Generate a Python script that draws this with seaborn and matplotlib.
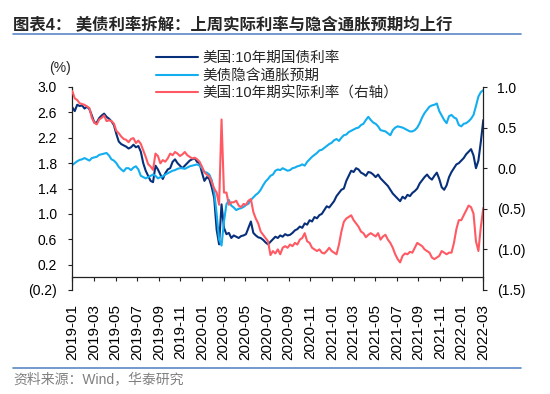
"""
US 10Y yield decomposition chart: nominal yield, breakeven inflation, real yield (right axis).
"""

import numpy as np
import pandas as pd
import matplotlib
matplotlib.use("Agg")
import matplotlib.pyplot as plt
import matplotlib.dates as mdates
from matplotlib.lines import Line2D
import seaborn as sns

sns.set_theme(style="white")
plt.rcParams["font.family"] = ["Liberation Sans", "Noto Sans CJK SC"]
plt.rcParams["axes.unicode_minus"] = False

# weekly readings, starting 2019-01-02
START_DATE = "2019-01-02"

NOMINAL = [
    2.68, 2.62, 2.72, 2.70, 2.71, 2.66, 2.69, 2.65, 2.55, 2.44,
    2.44, 2.51, 2.55, 2.58, 2.53, 2.50, 2.46, 2.40, 2.26, 2.14,
    2.10, 2.08, 2.06, 2.03, 2.05, 2.09, 2.05, 2.07, 1.98, 1.80,
    1.68, 1.60, 1.52, 1.50, 1.76, 1.70, 1.62, 1.55, 1.64, 1.70,
    1.72, 1.82, 1.86, 1.80, 1.76, 1.72, 1.76, 1.80, 1.84, 1.86,
    1.88, 1.82, 1.80, 1.65, 1.52, 1.58, 1.55, 1.42, 1.25, 0.75,
    0.52, 1.15, 0.78, 0.68, 0.70, 0.62, 0.66, 0.64, 0.62, 0.65,
    0.66, 0.68, 0.78, 0.88, 0.70, 0.66, 0.63, 0.62, 0.59, 0.55,
    0.52, 0.56, 0.60, 0.64, 0.62, 0.66, 0.64, 0.68, 0.66, 0.67,
    0.70, 0.74, 0.76, 0.80, 0.78, 0.85, 0.83, 0.90, 0.88, 0.95,
    0.93, 0.98, 1.00, 1.06, 1.12, 1.10, 1.15, 1.20, 1.28, 1.33,
    1.38, 1.40, 1.52, 1.60, 1.68, 1.66, 1.72, 1.70, 1.65, 1.63,
    1.60, 1.66, 1.65, 1.62, 1.58, 1.62, 1.56, 1.52, 1.48, 1.44,
    1.38, 1.32, 1.28, 1.24, 1.20, 1.27, 1.24, 1.30, 1.28, 1.33,
    1.36, 1.40, 1.48, 1.53, 1.58, 1.62, 1.57, 1.54, 1.60, 1.65,
    1.55, 1.42, 1.38, 1.45, 1.58, 1.66, 1.72, 1.78, 1.80, 1.84,
    1.88, 1.94, 1.98, 2.02, 1.92, 1.72, 1.84, 2.14, 2.48,
]

BREAKEVEN = [
    1.77, 1.80, 1.83, 1.85, 1.86, 1.88, 1.86, 1.84, 1.88, 1.89,
    1.90, 1.93, 1.94, 1.95, 1.96, 1.92, 1.86, 1.84, 1.80, 1.74,
    1.70, 1.67, 1.72, 1.72, 1.69, 1.73, 1.75, 1.70, 1.60, 1.58,
    1.56, 1.58, 1.60, 1.62, 1.60, 1.56, 1.58, 1.59, 1.62, 1.64,
    1.66, 1.68, 1.69, 1.71, 1.72, 1.72, 1.71, 1.73, 1.75, 1.76,
    1.77, 1.78, 1.76, 1.72, 1.66, 1.65, 1.62, 1.53, 1.35, 1.00,
    0.60, 0.50, 0.88, 1.15, 1.22, 1.13, 1.10, 1.06, 1.08, 1.09,
    1.11, 1.14, 1.16, 1.22, 1.26, 1.30, 1.33, 1.38, 1.45, 1.51,
    1.55, 1.60, 1.62, 1.68, 1.70, 1.69, 1.72, 1.70, 1.68, 1.69,
    1.72, 1.73, 1.75, 1.76, 1.78, 1.76, 1.82, 1.86, 1.90, 1.93,
    1.96, 2.00, 2.01, 2.04, 2.07, 2.10, 2.12, 2.16, 2.18, 2.15,
    2.20, 2.24, 2.25, 2.29, 2.31, 2.33, 2.35, 2.36, 2.40, 2.42,
    2.48, 2.53, 2.48, 2.44, 2.42, 2.38, 2.32, 2.31, 2.30, 2.27,
    2.24, 2.32, 2.36, 2.38, 2.37, 2.36, 2.34, 2.32, 2.30, 2.30,
    2.32, 2.36, 2.43, 2.52, 2.59, 2.64, 2.69, 2.71, 2.72, 2.74,
    2.62, 2.55, 2.48, 2.43, 2.54, 2.56, 2.52, 2.50, 2.40, 2.38,
    2.42, 2.43, 2.46, 2.50, 2.56, 2.70, 2.85, 2.92, 2.95,
]

REAL = [
    0.95, 0.86, 0.84, 0.80, 0.79, 0.78, 0.76, 0.74, 0.62, 0.56,
    0.54, 0.60, 0.62, 0.65, 0.58, 0.59, 0.58, 0.55, 0.46, 0.43,
    0.39, 0.36, 0.35, 0.32, 0.36, 0.37, 0.31, 0.34, 0.30, 0.22,
    0.14, 0.05, 0.02, -0.02, 0.18, 0.15, 0.06, 0.10, 0.08, 0.12,
    0.18, 0.16, 0.20, 0.18, 0.15, 0.17, 0.20, 0.16, 0.14, 0.12,
    0.13, 0.11, 0.08, 0.02, -0.05, -0.08, -0.10, -0.17, -0.25, -0.30,
    -0.45, 0.60, -0.30, -0.30, -0.45, -0.42, -0.42, -0.40, -0.46, -0.48,
    -0.44, -0.45, -0.40, -0.38, -0.54, -0.62, -0.68, -0.78, -0.82, -0.86,
    -0.90, -1.07, -1.02, -1.05, -1.00, -1.06, -0.98, -0.96, -0.98, -0.94,
    -0.96, -0.92, -0.94, -0.88, -0.86, -0.80, -0.90, -0.92, -0.98, -1.00,
    -1.02, -1.00, -1.04, -1.05, -1.02, -0.98, -1.02, -1.04, -1.06, -0.94,
    -0.78, -0.66, -0.62, -0.60, -0.58, -0.64, -0.68, -0.72, -0.78, -0.80,
    -0.85, -0.82, -0.80, -0.82, -0.84, -0.80, -0.88, -0.84, -0.82, -0.88,
    -0.92, -0.98, -1.06, -1.12, -1.16, -1.08, -1.05, -1.06, -1.03, -1.04,
    -0.98, -0.92, -0.94, -0.96, -1.00, -1.02, -1.04, -1.10, -1.12, -1.10,
    -1.08, -1.02, -1.04, -1.06, -1.04, -1.04, -0.92, -0.75, -0.64, -0.64,
    -0.58, -0.52, -0.46, -0.48, -0.56, -0.90, -1.02, -0.72, -0.49,
]

X_TICK_LABELS = [
    "2019-01", "2019-03", "2019-05", "2019-07", "2019-09", "2019-11",
    "2020-01", "2020-03", "2020-05", "2020-07", "2020-09", "2020-11",
    "2021-01", "2021-03", "2021-05", "2021-07", "2021-09", "2021-11",
    "2022-01", "2022-03",
]
LEFT_TICKS = [-0.2, 0.2, 0.6, 1.0, 1.4, 1.8, 2.2, 2.6, 3.0]
RIGHT_TICKS = [-1.5, -1.0, -0.5, 0.0, 0.5, 1.0]

LEGEND_LABELS = ["美国:10年期国债利率", "美债隐含通胀预期", "美国:10年期实际利率（右轴）"]
TITLE = "图表4： 美债利率拆解：上周实际利率与隐含通胀预期均上行"
SOURCE = "资料来源：Wind，华泰研究"

NAVY = "#08307A"
LIGHT_BLUE = "#13AEEF"
RED = "#FF5A63"
RULE_BLUE = "#5B87C5"


def fmt(v):
    return f"({abs(v):.1f})" if v < 0 else f"{v:.1f}"


dates = pd.date_range(START_DATE, periods=len(NOMINAL), freq="7D")
df = pd.DataFrame({"date": dates, "nominal": NOMINAL, "breakeven": BREAKEVEN, "real": REAL})

fig = plt.figure(figsize=(5.5, 3.94), dpi=100)
ax = fig.add_axes([72.3 / 550, 1 - 290 / 394, 411 / 550, 203 / 394])
ax2 = ax.twinx()

sns.lineplot(data=df, x="date", y="nominal", ax=ax, color=NAVY, linewidth=1.5, legend=False)
sns.lineplot(data=df, x="date", y="breakeven", ax=ax, color=LIGHT_BLUE, linewidth=1.5, legend=False)
sns.lineplot(data=df, x="date", y="real", ax=ax2, color=RED, linewidth=1.5, legend=False)

ax.set_xlim(dates[0], dates[-1])
ax.set_ylim(-0.2, 3.0)
ax2.set_ylim(-1.5, 1.0)

ticks = np.linspace(mdates.date2num(dates[0]), mdates.date2num(dates[-1]), len(X_TICK_LABELS))
ax.set_xticks(ticks)
ax.set_xticklabels(X_TICK_LABELS, fontsize=10)
ax.set_yticks(LEFT_TICKS)
ax.set_yticklabels([fmt(v) for v in LEFT_TICKS], fontsize=10)
ax2.set_yticks(RIGHT_TICKS)
ax2.set_yticklabels([fmt(v) for v in RIGHT_TICKS], fontsize=10)
for a in (ax, ax2):
    a.set_xlabel("")
    a.set_ylabel("")
    a.grid(False)

ax.spines["top"].set_visible(False)
ax.spines["right"].set_visible(False)
ax.spines["bottom"].set_position(("data", 0))
for side in ("top", "left", "bottom"):
    ax2.spines[side].set_visible(False)
for sp in ("left", "bottom"):
    ax.spines[sp].set_color("#222222")
    ax.spines[sp].set_linewidth(0.9)
ax2.spines["right"].set_color("#222222")
ax2.spines["right"].set_linewidth(0.9)

ax.tick_params(axis="x", bottom=True, direction="out", length=3, width=0.8, color="#222222",
               pad=16, labelcolor="black", labelrotation=90)
ax.tick_params(axis="y", left=True, direction="out", length=3, width=0.8, color="#222222", pad=8, labelcolor="black")
ax2.tick_params(axis="y", right=True, direction="out", length=3, width=0.8, color="#222222", pad=7, labelcolor="black")

fig.text(60 / 550, 1 - 68 / 394, "(%)", fontsize=10, ha="center", va="center")

handles = [ax.lines[0], ax.lines[1], ax2.lines[0]]
fig.legend(handles, LEGEND_LABELS, loc="upper left", bbox_to_anchor=(156 / 550, 1 - 51 / 394),
           frameon=False, fontsize=10.5, handlelength=2.9, handletextpad=0.3,
           labelspacing=0.25, borderpad=0, borderaxespad=0)

fig.text(13 / 550, 1 - 25 / 394, TITLE, fontsize=11.8, fontweight="bold", ha="left", va="center")
fig.add_artist(Line2D([13 / 550, 521 / 550], [1 - 34 / 394, 1 - 34 / 394], color=RULE_BLUE, linewidth=1.2))
fig.add_artist(Line2D([13 / 550, 521 / 550], [1 - 368 / 394, 1 - 368 / 394], color=RULE_BLUE, linewidth=1.2))
fig.text(13 / 550, 1 - 379 / 394, SOURCE, fontsize=10, color="#808080", ha="left", va="center")

fig.savefig("out.png", dpi=100)
plt.close(fig)
